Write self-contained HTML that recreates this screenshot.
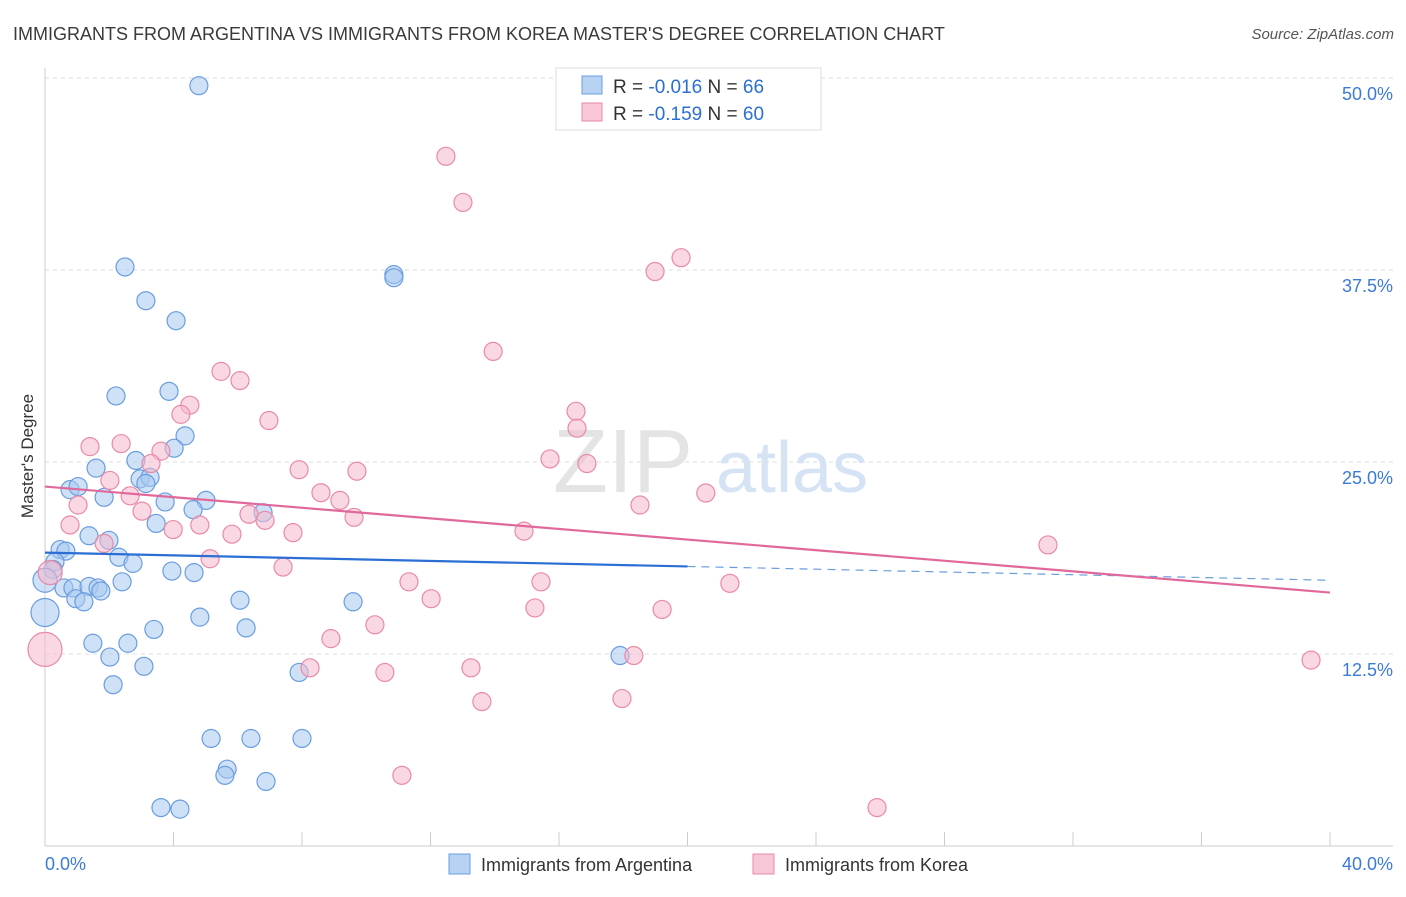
<!DOCTYPE html>
<html><head><meta charset="utf-8"><style>
body{margin:0;background:#fff;font-family:"Liberation Sans",sans-serif;}
svg text{font-family:"Liberation Sans",sans-serif;}
</style></head><body>
<svg id="chart" width="1406" height="892" viewBox="0 0 1406 892" xmlns="http://www.w3.org/2000/svg">
<text x="13" y="40" font-size="18" fill="#3a3a3a">IMMIGRANTS FROM ARGENTINA VS IMMIGRANTS FROM KOREA MASTER'S DEGREE CORRELATION CHART</text>
<text x="1394" y="39" font-size="15" fill="#555" text-anchor="end" font-style="italic">Source: ZipAtlas.com</text>
<g id="grid"></g>
<g id="axes"></g>
<text x="553" y="492" font-size="90" fill="#e4e4e4" font-family="Liberation Serif">ZIP</text>
<text x="716" y="492" font-size="72" fill="#d5e3f5">atlas</text>
<text transform="translate(33,456) rotate(-90)" font-size="17" fill="#333" text-anchor="middle">Master's Degree</text>
<g id="pts"></g>
<g id="lines"></g>
<g>
<rect x="556" y="68" width="265" height="62" fill="#fff" stroke="#ddd"/>
<rect x="582" y="76" width="20" height="18" fill="#b8d2f4" stroke="#6a9de0"/>
<rect x="582" y="103" width="20" height="18" fill="#f8c6d6" stroke="#e88aa8"/>
<text x="613" y="93" font-size="19" fill="#333">R = <tspan fill="#2b6fd4">-0.016</tspan>   N = <tspan fill="#2b6fd4">66</tspan></text>
<text x="613" y="120" font-size="19" fill="#333">R = <tspan fill="#2b6fd4"> -0.159</tspan>   N = <tspan fill="#2b6fd4">60</tspan></text>
</g>
<g>
<rect x="449" y="854" width="21" height="20" fill="#b8d2f4" stroke="#6a9de0"/>
<text x="481" y="871" font-size="18" fill="#333">Immigrants from Argentina</text>
<rect x="753" y="854" width="21" height="20" fill="#f8c6d6" stroke="#e88aa8"/>
<text x="785" y="871" font-size="18" fill="#333">Immigrants from Korea</text>
</g>
</svg>
<script>
const yTicks=[12.5,25,37.5,50];
const yTickLabels=["12.5%","25.0%","37.5%","50.0%"];
const xTickLabels=["0.0%","40.0%"];
const blueX=[4.79,2.49,3.14,4.08,10.86,10.86,2.21,3.86,4.36,4.02,1.59,2.83,0.78,1.03,1.84,2.96,3.27,3.14,3.74,5.01,4.61,6.79,3.46,1.37,1.99,0.47,0.65,0.31,0.25,2.30,2.74,0.0,0.59,0.87,1.37,1.65,1.74,0.96,1.21,2.40,3.95,4.64,6.07,9.59,0.0,4.82,3.39,6.26,1.49,2.58,2.02,3.08,2.12,7.91,17.9,5.17,6.41,8.0,5.67,5.60,6.88,3.61,4.20];
const blueY=[49.5,37.7,35.5,34.2,37.2,37.0,29.3,29.6,26.7,25.9,24.6,25.1,23.2,23.4,22.7,23.9,24.0,23.6,22.4,22.5,21.9,21.7,21.0,20.2,19.9,19.3,19.2,18.5,18.0,18.8,18.4,17.3,16.8,16.8,16.9,16.8,16.6,16.1,15.9,17.2,17.9,17.8,16.0,15.9,15.2,14.9,14.1,14.2,13.2,13.2,12.3,11.7,10.5,11.3,12.4,7.0,7.0,7.0,5.0,4.6,4.2,2.5,2.4];
const pinkX=[12.48,13.01,19.8,18.99,13.95,5.48,6.07,4.51,4.23,6.97,16.53,16.56,1.40,2.37,3.61,3.30,15.72,16.87,7.91,9.71,2.02,8.59,2.65,9.18,1.03,3.02,20.57,18.52,6.35,6.85,9.62,0.78,3.99,4.82,5.82,7.72,14.91,31.22,1.84,5.14,7.41,0.16,11.33,15.44,21.32,12.02,15.25,19.21,10.27,8.90,0.0,18.33,8.25,13.26,10.58,39.41,13.6,17.96,11.11,25.9];
const pinkY=[44.9,41.9,38.3,37.4,32.2,30.9,30.3,28.7,28.1,27.7,28.3,27.2,26.0,26.2,25.7,24.9,25.2,24.9,24.5,24.4,23.8,23.0,22.8,22.5,22.2,21.8,22.98,22.2,21.6,21.2,21.4,20.9,20.6,20.9,20.3,20.4,20.5,19.6,19.7,18.7,18.16,17.8,17.2,17.2,17.1,16.1,15.5,15.4,14.4,13.5,12.8,12.4,11.6,11.6,11.3,12.1,9.4,9.6,4.6,2.5];
const blueLine=[[0,19.1],[20,18.2]], blueDash=[[20,18.2],[40,17.3]], pinkLine=[[0,23.4],[40,16.5]];
const NS='http://www.w3.org/2000/svg';
const X=v=>45+v*32.125, Y=v=>846-v*15.36;
function mk(tag,attrs,parent){const e=document.createElementNS(NS,tag);for(const k in attrs)e.setAttribute(k,attrs[k]);document.getElementById(parent).appendChild(e);return e;}
yTicks.forEach((t,i)=>{
 const l=mk('line',{x1:45,x2:1393,y1:Y(t),y2:Y(t),stroke:'#ddd','stroke-dasharray':'4,4'},'grid');
 
 
 const tx=mk('text',{x:1393,y:Y(t)+22,'font-size':18,fill:'#3b7bd8','text-anchor':'end'},'axes');
 tx.textContent=yTickLabels[i];
 
 
});
const ax=mk('line',{x1:45,x2:1393,y1:846,y2:846,stroke:'#ccc'},'axes');


const ay=mk('line',{x1:45,x2:45,y1:68,y2:846,stroke:'#ccc'},'axes');


for(let i=0;i<=10;i++){const t=mk('line',{x1:X(i*4),x2:X(i*4),y1:832,y2:846,stroke:'#ccc'},'axes');
 
 }
[[0,'start',xTickLabels[0]],[40,'end',xTickLabels[1]]].forEach(([v,a,s])=>{
 const t=mk('text',{x:v==0?45:1393,y:870,'font-size':18,fill:'#3b7bd8','text-anchor':a},'axes');t.textContent=s;
 
 });
function pts(xs,ys,fill,stroke,name,big){xs.forEach((x,i)=>{
 let r=9; if(big[i])r=big[i];
 const c=mk('circle',{cx:X(x),cy:Y(ys[i]),r:r,fill:fill,'fill-opacity':0.55,stroke:stroke,'stroke-width':1.2},'pts');
 
 });}
pts(blueX,blueY,'#a8c8f0','#6a9de0','argentina-point',{31:12,44:14});
pts(pinkX,pinkY,'#f5b8cc','#e88aa8','korea-point',{41:12,50:17});
function ln(p,color,dash,name){const l=mk('line',{x1:X(p[0][0]),y1:Y(p[0][1]),x2:X(p[1][0]),y2:Y(p[1][1]),stroke:color,'stroke-width':dash?1.2:2.2},'lines');
 if(dash)l.setAttribute('stroke-dasharray','8,6');
 
 }
ln(blueLine,'#2b6fd4',false,'argentina-trend');
ln(blueDash,'#6a9de0',true,'argentina-trend-extension');
ln(pinkLine,'#e0689a',false,'korea-trend');
</script>
</body></html>
